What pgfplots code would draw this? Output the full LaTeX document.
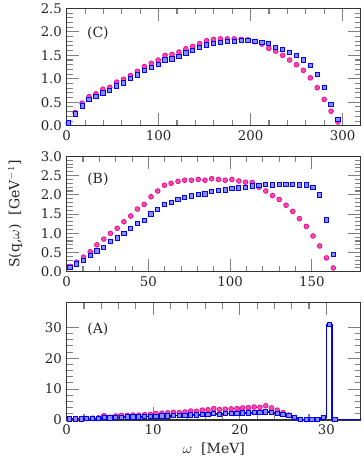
\documentclass[border=0pt]{standalone}
\usepackage{fontspec}
\setmainfont{DejaVu Serif}
\usepackage{pgfplots}
\usepackage{pgfplotstable}
\pgfplotsset{compat=1.18}

% panel (C)
\pgfplotstableread{
x m b
1.8 0.06 0.06
9.3 0.28 0.25
16.8 0.48 0.42
24.3 0.62 0.56
31.8 0.68 0.62
39.4 0.78 0.70
46.9 0.82 0.75
54.4 0.93 0.85
61.9 0.99 0.91
69.4 1.07 1.00
77.0 1.16 1.08
84.5 1.26 1.17
92.0 1.33 1.24
99.5 1.40 1.31
107.0 1.50 1.40
114.6 1.52 1.42
122.1 1.57 1.47
129.6 1.64 1.55
137.1 1.69 1.60
144.6 1.75 1.67
152.2 1.81 1.72
159.7 1.84 1.76
167.2 1.85 1.78
174.7 1.85 1.79
182.2 1.85 1.80
189.8 1.84 1.81
197.3 1.83 1.82
204.8 1.79 1.80
212.3 1.74 1.77
219.8 1.65 1.75
227.4 1.59 1.67
234.9 1.50 1.62
242.4 1.40 1.56
249.9 1.30 1.49
257.4 1.18 1.40
265.0 1.02 1.29
272.5 0.81 1.10
280.0 0.56 0.81
287.5 0.31 0.46
295.0 0.08 0.14
}\dataC

% panel (B)
\pgfplotstableread{
x m b
2.0 0.14 0.12
6.1 0.25 0.20
10.3 0.38 0.30
14.4 0.52 0.42
18.5 0.70 0.54
22.7 0.85 0.64
26.8 1.00 0.78
30.9 1.13 0.88
35.0 1.30 1.00
39.2 1.45 1.12
43.3 1.63 1.25
47.4 1.75 1.33
51.6 1.95 1.50
55.7 2.10 1.62
59.8 2.25 1.75
63.9 2.30 1.80
68.1 2.35 1.88
72.2 2.38 1.93
76.3 2.38 1.97
80.5 2.40 2.01
84.6 2.38 2.02
88.7 2.42 2.08
92.9 2.40 2.12
97.0 2.38 2.13
101.1 2.40 2.17
105.3 2.36 2.18
109.4 2.33 2.20
113.5 2.32 2.23
117.6 2.20 2.25
121.8 2.10 2.27
125.9 1.98 2.26
130.0 1.88 2.27
134.2 1.73 2.27
138.3 1.57 2.27
142.4 1.38 2.26
146.6 1.18 2.26
150.7 0.93 2.20
154.8 0.67 2.00
158.9 0.36 1.35
163.1 0.10 0.45
}\dataB

% panel (A), magenta
\pgfplotstableread{
x m
0.33 0.30
1.00 0.35
1.67 0.40
2.33 0.50
3.00 0.60
3.67 0.70
4.33 1.40
5.00 0.90
5.67 1.30
6.33 1.50
7.00 1.50
7.67 1.60
8.33 1.60
9.00 1.70
9.67 1.80
10.33 2.10
11.00 2.20
11.67 2.30
12.33 2.50
13.00 2.40
13.67 2.60
14.33 2.90
15.00 2.80
15.67 3.20
16.33 3.30
17.00 3.70
17.67 3.40
18.33 3.50
19.00 3.60
19.67 3.70
20.33 3.90
21.00 4.00
21.67 4.20
22.33 4.10
23.00 4.60
23.67 3.90
24.33 3.20
25.00 2.40
25.67 1.60
26.33 0.80
27.00 0.20
27.67 0.10
}\dataAm

% panel (A), blue
\pgfplotstableread{
x b
0.33 0.30
1.00 0.30
1.67 0.35
2.33 0.40
3.00 0.45
3.67 0.50
4.33 0.80
5.00 0.70
5.67 0.80
6.33 0.90
7.00 0.95
7.67 1.00
8.33 1.00
9.00 1.10
9.67 1.10
10.33 1.20
11.00 1.30
11.67 1.30
12.33 1.40
13.00 1.40
13.67 1.50
14.33 1.60
15.00 1.60
15.67 1.70
16.33 1.80
17.00 2.00
17.67 1.90
18.33 2.00
19.00 2.10
19.67 2.20
20.33 2.30
21.00 2.30
21.67 2.40
22.33 2.50
23.00 2.60
23.67 2.50
24.33 2.20
25.00 1.80
25.67 1.40
26.33 0.80
27.00 0.25
27.67 0.15
28.33 0.15
29.00 0.15
29.67 0.90
30.33 31.00
31.00 0.15
}\dataAb

% histogram line of the blue series, carried on to the right edge
\pgfplotstableread{
x b
-0.33 0.30
0.33 0.30
1.00 0.30
1.67 0.35
2.33 0.40
3.00 0.45
3.67 0.50
4.33 0.80
5.00 0.70
5.67 0.80
6.33 0.90
7.00 0.95
7.67 1.00
8.33 1.00
9.00 1.10
9.67 1.10
10.33 1.20
11.00 1.30
11.67 1.30
12.33 1.40
13.00 1.40
13.67 1.50
14.33 1.60
15.00 1.60
15.67 1.70
16.33 1.80
17.00 2.00
17.67 1.90
18.33 2.00
19.00 2.10
19.67 2.20
20.33 2.30
21.00 2.30
21.67 2.40
22.33 2.50
23.00 2.60
23.67 2.50
24.33 2.20
25.00 1.80
25.67 1.40
26.33 0.80
27.00 0.25
27.67 0.15
28.33 0.15
29.00 0.15
29.67 0.90
30.33 31.00
31.00 0.15
31.67 0.15
32.33 0.15
33.00 0.15
33.67 0.15
34.33 0.15
}\dataAline

\pgfplotsset{
  panel/.style={
    scale only axis,
    width=220.7pt, height=88pt,
    xmin=0,
    axis line style={black!80, line width=0.8pt},
    tick style={black!50, line width=0.8pt},
    major tick length=9.5pt, minor tick length=4.5pt,
    minor tick num=4,
    tick label style={font=\fontsize{10}{12}\selectfont, text=black!85},
    /pgf/number format/assume math mode=true,
    label style={font=\fontsize{10.5}{12}\selectfont, text=black!85},
  },
  decy/.style={
    yticklabel style={/pgf/number format/.cd, fixed, fixed zerofill, precision=1},
  },
  mser/.style={only marks, mark=*, mark size=1.8pt,
    mark options={draw=magenta, fill=magenta!70, line width=0.5pt}},
  bser/.style={only marks, mark=square*, mark size=1.6pt,
    mark options={draw=blue, fill=blue!45, line width=0.7pt}},
}

\begin{document}
\begin{tikzpicture}

% (A)
\begin{axis}[panel, at={(0pt,0pt)}, anchor=south west,
  xmax=34, ymin=0, ymax=38,
  xtick={0,10,20,30}, ytick={0,10,20,30},
  xlabel={$\omega$\ \ [MeV]},
  xlabel style={at={(axis description cs:0.5,-0.245)}, anchor=center},
]
  \addplot[mser] table[x=x, y=m] {\dataAm};
  \addplot[blue, line width=1pt, const plot mark mid, forget plot] table[x=x, y=b] {\dataAline};
  \addplot[bser] table[x=x, y=b] {\dataAb};
  \node[font=\fontsize{10.5}{12}\selectfont, text=black!85] at (rel axis cs:0.106,0.777) {(A)};
\end{axis}

% (B)
\begin{axis}[panel, decy, at={(0pt,111.2pt)}, anchor=south west, height=86.5pt,
  xmax=180, ymin=0, ymax=3,
  xtick={0,50,100,150}, ytick={0,0.5,...,3.0},
  ylabel={S(q,$\omega$)\ \ [GeV$^{-1}$]},
  ylabel style={at={(axis description cs:-0.175,0.5)}, anchor=center},
]
  \addplot[mser] table[x=x, y=m] {\dataB};
  \addplot[bser] table[x=x, y=b] {\dataB};
  \node[font=\fontsize{10.5}{12}\selectfont, text=black!85] at (rel axis cs:0.106,0.805) {(B)};
\end{axis}

% (C)
\begin{axis}[panel, decy, at={(0pt,220.7pt)}, anchor=south west,
  xmax=320, ymin=0, ymax=2.5,
  xtick={0,100,200,300}, ytick={0,0.5,...,2.5},
]
  \addplot[mser] table[x=x, y=m] {\dataC};
  \addplot[bser] table[x=x, y=b] {\dataC};
  \node[font=\fontsize{10.5}{12}\selectfont, text=black!85] at (rel axis cs:0.106,0.79) {(C)};
\end{axis}

\pgfresetboundingbox
\path (-50pt,-33.75pt) rectangle (223pt,315pt);
\end{tikzpicture}
\end{document}
